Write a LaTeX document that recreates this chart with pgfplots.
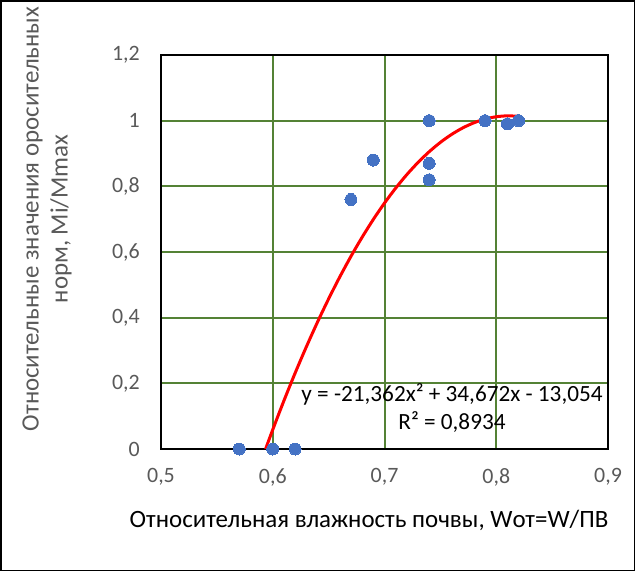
\documentclass[border=0pt]{standalone}
\usepackage{pgfplots}
\pgfplotsset{compat=1.18}
\usepackage{fontspec}
\setmainfont{Carlito}
\definecolor{gridgreen}{HTML}{548235}
\definecolor{ptblue}{HTML}{4472C4}
\definecolor{txtgray}{HTML}{595959}
\begin{document}
\begin{tikzpicture}
\draw[line width=1.5bp] (0.75bp,-0.75bp) rectangle (634.25bp,-570.25bp);
\begin{axis}[
  at={(161bp,-449bp)}, anchor=south west,
  scale only axis, width=447bp, height=394bp,
  xmin=0.5, xmax=0.9, ymin=0, ymax=1.2,
  xtick={0.5,0.6,0.7,0.8,0.9},
  ytick={0,0.2,0.4,0.6,0.8,1,1.2},
  grid=major,
  major grid style={gridgreen, line width=2bp},
  axis line style={black, line width=1.8bp},
  major tick length=0pt,
  tick label style={font=\fontsize{22}{26}\selectfont, text=txtgray, inner sep=0pt},
  /pgf/number format/assume math mode=true,
  /pgf/number format/use comma,
  xticklabel style={anchor=center, yshift=-28bp},
  yticklabel style={anchor=east, xshift=-21bp},
  clip=false,
]
\addplot[only marks, color=ptblue, mark=*, mark size=6bp, mark options={fill=ptblue, draw=ptblue, line width=0pt}] coordinates {
(0.57,0) (0.60,0) (0.62,0) (0.67,0.76) (0.69,0.88) (0.74,1.0) (0.74,0.87)
(0.74,0.82) (0.79,1.0) (0.81,0.99) (0.82,1.0)
};
\addplot[red, line width=3bp, smooth] coordinates {
(0.5936,0) (0.60,0.05888) (0.61,0.14712) (0.62,0.23109) (0.63,0.31078)
(0.64,0.3862) (0.65,0.45735) (0.66,0.52423) (0.67,0.58684) (0.68,0.64517)
(0.69,0.69923) (0.70,0.74902) (0.71,0.79454) (0.72,0.83578) (0.73,0.87275)
(0.74,0.90545) (0.75,0.93387) (0.76,0.95803) (0.77,0.97791) (0.78,0.99352)
(0.79,1.00486) (0.80,1.01192) (0.81,1.01471) (0.82,1.01323)
};
\end{axis}
\node[anchor=base, font=\fontsize{23.3}{26}\selectfont] at (452bp,-401bp) {y = -21,362x² + 34,672x - 13,054};
\node[anchor=base, font=\fontsize{23.3}{26}\selectfont] at (452bp,-429bp) {R² = 0,8934};
\node[anchor=base, font=\fontsize{25}{29}\selectfont] at (369bp,-527bp) {Относительная влажность почвы, Wот=W/ПВ};
\node[rotate=90, align=center, text=txtgray, font=\fontsize{25}{29}\selectfont] at (47bp,-219bp) {Относительные значения оросительных\\норм, Mi/Mmax};
\end{tikzpicture}
\end{document}
